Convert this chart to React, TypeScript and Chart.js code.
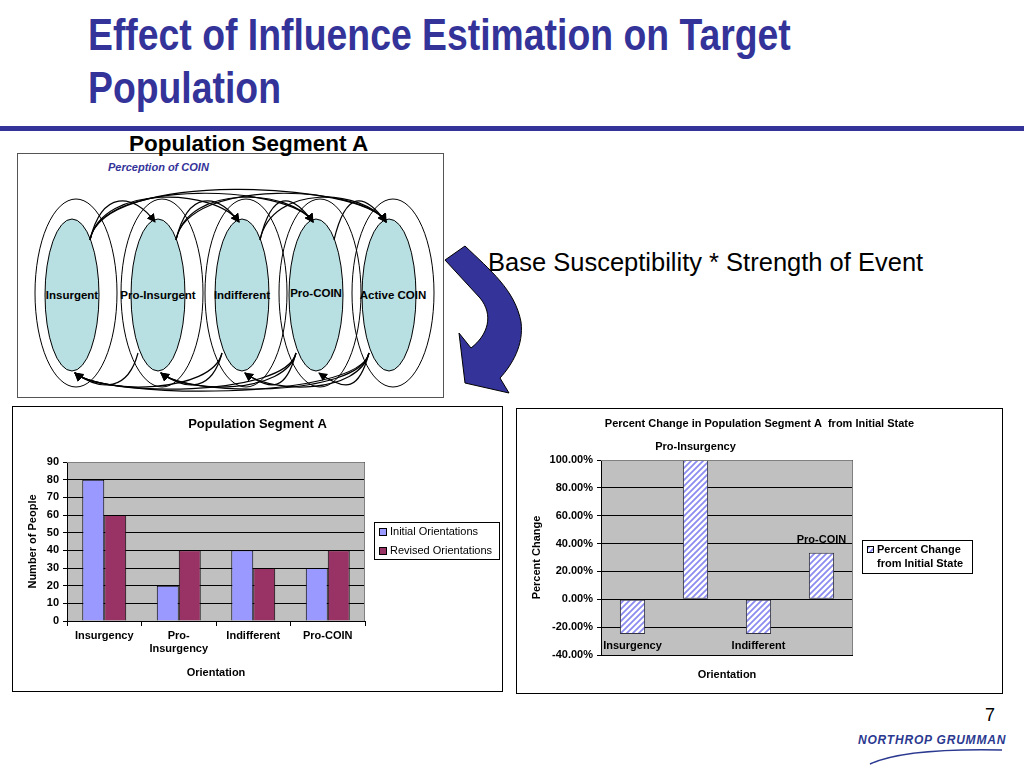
import React, { useEffect, useRef } from "react";
import { Chart, registerables } from "chart.js";

Chart.register(...registerables);

const FONT = "'Liberation Sans', Arial, Helvetica, sans-serif";
const NAVY = "#333399";

// ---------- data ----------
const countCategories: (string | string[])[] = ["Insurgency", ["Pro-", "Insurgency"], "Indifferent", "Pro-COIN"];
const initialOrientations = [80, 20, 40, 30];
const revisedOrientations = [60, 40, 30, 40];
const countSeriesNames = ["Initial Orientations", "Revised Orientations"];

const percentCategories = ["Insurgency", "Pro-Insurgency", "Indifferent", "Pro-COIN"];
const percentChange = [-25, 100, -25, 33.33];
const percentSeriesName = "Percent Change from Initial State";
const percentLegendLines = ["Percent Change", "from Initial State"];

const nodeLabels = ["Insurgent", "Pro-Insurgent", "Indifferent", "Pro-COIN", "Active COIN"];

const leftTitle = "Population Segment A";
const rightTitle = "Percent Change in Population Segment A  from Initial State";

// ---------- helpers ----------
function makeHatch(): CanvasPattern | string {
  const c = document.createElement("canvas");
  const s = 6;
  c.width = s;
  c.height = s;
  const ctx = c.getContext("2d");
  if (!ctx) return "#9999FF";
  ctx.fillStyle = "#ffffff";
  ctx.fillRect(0, 0, s, s);
  ctx.strokeStyle = "#8C8CF0";
  ctx.lineWidth = 1.8;
  ctx.beginPath();
  ctx.moveTo(0, s);
  ctx.lineTo(s, 0);
  ctx.moveTo(-s / 2, s / 2);
  ctx.lineTo(s / 2, -s / 2);
  ctx.moveTo(s / 2, s * 1.5);
  ctx.lineTo(s * 1.5, s / 2);
  ctx.stroke();
  return ctx.createPattern(c, "repeat") || "#9999FF";
}

type LegendCfg = {
  box: [number, number, number, number];
  items: { lines: string[]; x: number; y: number; fill: any; mx: number; my: number; ms: number }[];
  bold: boolean;
};

function framePlugin(title: string, titleY: number, titleSize: number, legend: LegendCfg) {
  return {
    id: "frame",
    beforeDraw(chart: any) {
      const { ctx, width, height, chartArea } = chart;
      ctx.save();
      ctx.fillStyle = "#ffffff";
      ctx.fillRect(0, 0, width, height);
      ctx.fillStyle = "#C0C0C0";
      ctx.fillRect(chartArea.left, chartArea.top, chartArea.right - chartArea.left, chartArea.bottom - chartArea.top);
      ctx.restore();
    },
    afterDraw(chart: any) {
      const { ctx, width, height, chartArea } = chart;
      ctx.save();
      ctx.strokeStyle = "#808080";
      ctx.lineWidth = 1;
      ctx.beginPath();
      ctx.moveTo(chartArea.left, chartArea.top + 0.5);
      ctx.lineTo(chartArea.right - 0.5, chartArea.top + 0.5);
      ctx.lineTo(chartArea.right - 0.5, chartArea.bottom);
      ctx.stroke();
      ctx.strokeStyle = "#000000";
      ctx.strokeRect(0.5, 0.5, width - 1, height - 1);
      ctx.fillStyle = "#000";
      ctx.font = `bold ${titleSize}px ${FONT}`;
      ctx.textAlign = "center";
      ctx.textBaseline = "middle";
      ctx.fillText(title, width / 2, titleY);
      const [bx, by, bw, bh] = legend.box;
      ctx.fillStyle = "#fff";
      ctx.fillRect(bx, by, bw, bh);
      ctx.strokeStyle = "#000";
      ctx.strokeRect(bx + 0.5, by + 0.5, bw, bh);
      ctx.font = `${legend.bold ? "bold " : ""}11px ${FONT}`;
      ctx.textAlign = "left";
      legend.items.forEach((it) => {
        ctx.fillStyle = it.fill;
        ctx.fillRect(it.mx, it.my, it.ms, it.ms);
        ctx.strokeStyle = "#000";
        ctx.strokeRect(it.mx + 0.5, it.my + 0.5, it.ms, it.ms);
        ctx.fillStyle = "#000";
        it.lines.forEach((ln, k) => ctx.fillText(ln, it.x, it.y + k * 14));
      });
      ctx.restore();
    },
  };
}

const tickFont = { family: FONT, size: 11, weight: "bold" as const };

// ---------- left chart ----------
function CountChart() {
  const ref = useRef<HTMLCanvasElement | null>(null);
  useEffect(() => {
    if (!ref.current) return;
    const colors = ["#9999FF", "#993366"];
    const legend: LegendCfg = {
      box: [362, 116, 125, 37],
      bold: false,
      items: countSeriesNames.map((n, i) => ({
        lines: [n],
        x: 378,
        y: 126 + i * 19,
        fill: colors[i],
        mx: 367,
        my: 122 + i * 19,
        ms: 7,
      })),
    };
    const chart = new Chart(ref.current, {
      type: "bar",
      data: {
        labels: countCategories as any,
        datasets: [
          { label: countSeriesNames[0], data: initialOrientations, backgroundColor: colors[0], borderColor: "#000", borderWidth: 1 },
          { label: countSeriesNames[1], data: revisedOrientations, backgroundColor: colors[1], borderColor: "#000", borderWidth: 1 },
        ],
      },
      options: {
        animation: false,
        responsive: false,
        layout: { padding: { left: 0, right: 138, top: 56, bottom: 0 } },
        datasets: { bar: { categoryPercentage: 0.59, barPercentage: 1 } },
        plugins: { legend: { display: false }, title: { display: false }, tooltip: { enabled: false } },
        scales: {
          x: {
            grid: { offset: true, drawOnChartArea: false, drawTicks: true, tickLength: 5, color: "#000" },
            border: { display: true, color: "#000" },
            ticks: { color: "#000", font: tickFont, padding: 3, maxRotation: 0, autoSkip: false },
            title: { display: true, text: "Orientation", color: "#000", font: tickFont, padding: { top: 0, bottom: 12 } },
            afterFit: (s: any) => {
              s.height = 71;
            },
          },
          y: {
            min: 0,
            max: 90,
            ticks: { stepSize: 10, color: "#000", font: tickFont, padding: 4 },
            grid: { color: "#000", tickLength: 4 },
            border: { display: true, color: "#000" },
            title: { display: true, text: "Number of People", color: "#000", font: tickFont, padding: { top: 14, bottom: 0 } },
            afterFit: (s: any) => {
              s.width = 55;
            },
          },
        },
      },
      plugins: [framePlugin(leftTitle, 18, 13, legend)],
    });
    return () => chart.destroy();
  }, []);
  return (
    <div style={{ position: "absolute", left: 12, top: 406, width: 491, height: 286 }}>
      <canvas ref={ref} width={491} height={286} style={{ width: 491, height: 286, display: "block" }} />
    </div>
  );
}

// ---------- right chart ----------
function PercentChart() {
  const ref = useRef<HTMLCanvasElement | null>(null);
  useEffect(() => {
    if (!ref.current) return;
    const hatch = makeHatch();
    const legend: LegendCfg = {
      box: [346, 132, 110, 33],
      bold: true,
      items: [{ lines: percentLegendLines, x: 361, y: 142, fill: hatch, mx: 351, my: 138, ms: 6 }],
    };
    const labelPlugin = {
      id: "barLabels",
      afterDatasetsDraw(chart: any) {
        const { ctx } = chart;
        const meta = chart.getDatasetMeta(0);
        ctx.save();
        ctx.font = `bold 11px ${FONT}`;
        ctx.fillStyle = "#000";
        ctx.textAlign = "center";
        ctx.textBaseline = "middle";
        meta.data.forEach((el: any, i: number) => {
          const v = chart.data.datasets[0].data[i] as number;
          const p = el.getProps(["x", "y"], true);
          ctx.fillText(String(chart.data.labels[i]), p.x, v >= 0 ? p.y - 13 : p.y + 12);
        });
        ctx.restore();
      },
    };
    const chart = new Chart(ref.current, {
      type: "bar",
      data: {
        labels: percentCategories,
        datasets: [
          { label: percentSeriesName, data: percentChange, backgroundColor: hatch as any, borderColor: "#333344", borderWidth: 1, borderSkipped: false },
        ],
      },
      options: {
        animation: false,
        responsive: false,
        layout: { padding: { left: 0, right: 150, top: 52, bottom: 0 } },
        datasets: { bar: { categoryPercentage: 0.8, barPercentage: 0.5 } },
        plugins: { legend: { display: false }, title: { display: false }, tooltip: { enabled: false } },
        scales: {
          x: {
            grid: { display: false },
            border: { display: false },
            ticks: { display: false },
            title: { display: true, text: "Orientation", color: "#000", font: tickFont, padding: { top: 0, bottom: 12 } },
            afterFit: (s: any) => {
              s.height = 39;
            },
          },
          y: {
            min: -40,
            max: 100,
            ticks: {
              stepSize: 20,
              color: "#000",
              font: tickFont,
              padding: 4,
              callback: (v: any) => Number(v).toFixed(2) + "%",
            },
            grid: { color: "#000", tickLength: 4 },
            border: { display: true, color: "#000" },
            title: { display: true, text: "Percent Change", color: "#000", font: tickFont, padding: { top: 14, bottom: 0 } },
            afterFit: (s: any) => {
              s.width = 85;
            },
          },
        },
      },
      plugins: [framePlugin(rightTitle, 16, 11, legend), labelPlugin],
    });
    return () => chart.destroy();
  }, []);
  return (
    <div style={{ position: "absolute", left: 516, top: 408, width: 487, height: 286 }}>
      <canvas ref={ref} width={487} height={286} style={{ width: 487, height: 286, display: "block" }} />
    </div>
  );
}

// ---------- diagram ----------
const nodeX = [72, 158, 242, 316, 389];

function Diagram() {
  const cy = 295;
  const topArcs: string[] = [];
  const bottomArcs: string[] = [];
  for (let i = 0; i < nodeX.length; i++) {
    for (let j = i + 1; j < nodeX.length; j++) {
      const a = nodeX[i];
      const b = nodeX[j];
      const lift = 8 + (j - i) * 7;
      topArcs.push(`M ${a + 18} ${cy - 55} C ${a + 30} ${cy - 90 - lift} ${b - 25} ${cy - 95 - lift / 2} ${b - 3} ${cy - 73}`);
      bottomArcs.push(`M ${b - 20} ${cy + 58} C ${b - 30} ${cy + 88 + lift / 2} ${a + 30} ${cy + 92 + lift / 3} ${a + 3} ${cy + 78}`);
    }
  }
  return (
    <svg width={1024} height={768} style={{ position: "absolute", left: 0, top: 0 }}>
      <defs>
        <marker id="ah" markerWidth="9" markerHeight="9" refX="8" refY="4.5" orient="auto" markerUnits="userSpaceOnUse">
          <path d="M0,0 L9,4.5 L0,9 Z" fill="#000" />
        </marker>
      </defs>
      <rect x={17.5} y={153.5} width={426} height={244} fill="none" stroke="#555" strokeWidth={1} />
      {nodeX.map((x, i) => (
        <ellipse key={"o" + i} cx={x + 4} cy={cy - 2} rx={41} ry={94} fill="none" stroke="#000" strokeWidth={1} />
      ))}
      {nodeX.map((x, i) => (
        <ellipse key={"n" + i} cx={x} cy={cy} rx={27} ry={76} fill="#B8DFE2" stroke="#000" strokeWidth={1} />
      ))}
      {topArcs.map((d, i) => (
        <path key={"t" + i} d={d} fill="none" stroke="#000" strokeWidth={1.2} markerEnd="url(#ah)" />
      ))}
      {bottomArcs.map((d, i) => (
        <path key={"b" + i} d={d} fill="none" stroke="#000" strokeWidth={1.2} markerEnd="url(#ah)" />
      ))}
      {nodeLabels.map((t, i) => (
        <text
          key={"l" + i}
          x={nodeX[i] + (i === 4 ? 4 : 0)}
          y={i === 3 ? 294 : 296}
          textAnchor="middle"
          dominantBaseline="middle"
          style={{ font: `bold 11.5px ${FONT}` }}
          fill="#000"
        >
          {t}
        </text>
      ))}
      <path
        d="M 445 260 L 465 246 C 490 270 515 290 521 322 C 524 345 512 365 500 378 L 509 393 L 465 383 L 459 333 L 471 348 C 488 335 494 315 480 298 Z"
        fill={NAVY}
        stroke="#000"
        strokeWidth={1}
      />
      <path d="M 870 764 Q 905 748 1002 750" fill="none" stroke="#2B3990" strokeWidth={1.5} />
    </svg>
  );
}

export default function App() {
  return (
    <div style={{ position: "fixed", left: 0, top: 0, width: 1024, height: 768, background: "#fff", overflow: "hidden", fontFamily: FONT }}>
      <div
        style={{
          position: "absolute",
          left: 88,
          top: 8,
          font: `bold 45px/53px ${FONT}`,
          color: NAVY,
          whiteSpace: "nowrap",
          transform: "scaleX(0.83)",
          transformOrigin: "0 0",
        }}
      >
        Effect of Influence Estimation on Target
        <br />
        Population
      </div>
      <div style={{ position: "absolute", left: 0, top: 126, width: 1024, height: 5, background: NAVY }} />
      <Diagram />
      <div style={{ position: "absolute", left: 129, top: 132, font: `bold 22.5px/24px ${FONT}`, color: "#000", whiteSpace: "nowrap" }}>
        Population Segment A
      </div>
      <div style={{ position: "absolute", left: 108, top: 160, font: `italic bold 11px/14px ${FONT}`, color: NAVY, whiteSpace: "nowrap" }}>
        Perception of COIN
      </div>
      <div style={{ position: "absolute", left: 488, top: 247, font: `25.5px/30px ${FONT}`, color: "#000", whiteSpace: "nowrap" }}>
        Base Susceptibility * Strength of Event
      </div>
      <CountChart />
      <PercentChart />
      <div style={{ position: "absolute", left: 985, top: 704, font: `18px/22px ${FONT}`, color: "#000" }}>7</div>
      <div
        style={{
          position: "absolute",
          left: 858,
          top: 733,
          font: `italic 900 12px/14px ${FONT}`,
          color: "#2B3990",
          letterSpacing: 0.8,
          whiteSpace: "nowrap",
        }}
      >
        NORTHROP GRUMMAN
      </div>
    </div>
  );
}
